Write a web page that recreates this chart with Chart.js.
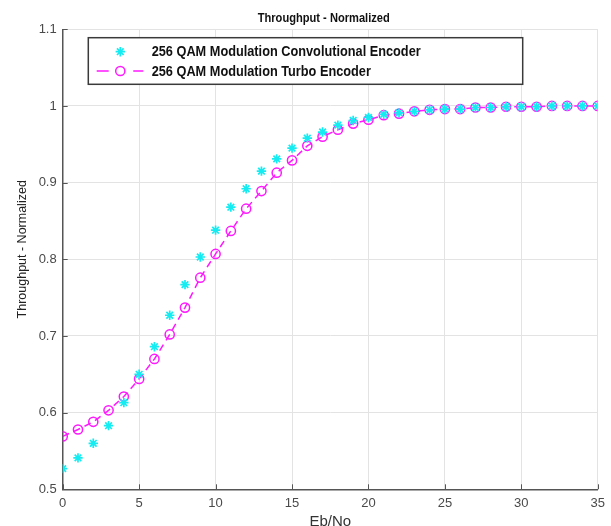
<!DOCTYPE html>
<html>
<head>
<meta charset="utf-8">
<script src="https://cdn.jsdelivr.net/npm/chart.js@4.4.1/dist/chart.umd.min.js"></script>
<style>
html, body { margin: 0; padding: 0; background: #ffffff; }
#wrap { width: 611px; height: 526px; position: relative; }
</style>
</head>
<body>
<div id="wrap"><canvas id="c" width="611" height="526"></canvas></div>
<script>
// ---- data ----
const ebNo = [0,1,2,3,4,5,6,7,8,9,10,11,12,13,14,15,16,17,18,19,20,21,22,23,24,25,26,27,28,29,30,31,32,33,34,35];
const convolutional = [0.527,0.541,0.560,0.583,0.613,0.650,0.686,0.727,0.767,0.803,0.838,0.868,0.892,0.915,0.931,0.945,0.958,0.966,0.975,0.981,0.985,0.989,0.991,0.993,0.995,0.996,0.996,0.998,0.998,0.999,0.999,0.999,1.000,1.000,1.000,1.000];
const turbo = [0.569,0.578,0.588,0.603,0.621,0.644,0.670,0.702,0.737,0.776,0.807,0.837,0.866,0.889,0.913,0.929,0.948,0.960,0.969,0.977,0.982,0.988,0.990,0.993,0.995,0.996,0.996,0.998,0.998,0.999,0.999,0.999,1.000,1.000,1.000,1.000];
const seriesLabels = ['256 QAM Modulation Convolutional Encoder', '256 QAM Modulation Turbo Encoder'];
const xTickLabels = ['0','5','10','15','20','25','30','35'];
const yTickLabels = ['0.5','0.6','0.7','0.8','0.9','1','1.1'];
const chartTitle = 'Throughput - Normalized';
const xTitle = 'Eb/No';
const yTitle = 'Throughput - Normalized';

const SANS = '"Liberation Sans", Arial, "DejaVu Sans", sans-serif';
const AXIS_COLOR = '#555555';
const GRID_COLOR = '#e3e3e3';

const toXY = (xs, ys) => xs.map((x, i) => ({ x: x, y: ys[i] }));

// draw text condensed horizontally so it spans a target width
function condensedText(ctx, text, x, y, font, targetWidth, align) {
  ctx.save();
  ctx.font = font;
  const w = ctx.measureText(text).width;
  const k = targetWidth / w;
  ctx.textBaseline = 'middle';
  ctx.textAlign = align;
  ctx.translate(x, y);
  ctx.scale(k, 1);
  ctx.fillText(text, 0, 0);
  ctx.restore();
  return k;
}

// inward tick marks (MATLAB style)
const inwardTicks = {
  id: 'inwardTicks',
  afterDatasetsDraw(chart) {
    const { ctx, chartArea: a, scales } = chart;
    ctx.save();
    ctx.strokeStyle = AXIS_COLOR;
    ctx.lineWidth = 1;
    ctx.beginPath();
    scales.x.ticks.forEach(t => {
      const px = Math.round(scales.x.getPixelForValue(t.value)) + 0.5;
      ctx.moveTo(px, a.bottom);
      ctx.lineTo(px, a.bottom - 5);
    });
    scales.y.ticks.forEach(t => {
      const py = Math.round(scales.y.getPixelForValue(t.value)) + 0.5;
      ctx.moveTo(a.left, py);
      ctx.lineTo(a.left + 5, py);
    });
    ctx.stroke();
    ctx.restore();
  }
};

// chart title and y-axis title
const titles = {
  id: 'titles',
  afterDraw(chart) {
    const { ctx, chartArea: a } = chart;
    ctx.save();
    ctx.fillStyle = '#111111';
    condensedText(ctx, chartTitle, (a.left + a.right) / 2 - 6.5, a.top - 11.3, 'bold 13px ' + SANS, 132, 'center');
    ctx.fillStyle = '#222222';
    ctx.translate(22.7, (a.top + a.bottom) / 2 - 10);
    ctx.rotate(-Math.PI / 2);
    ctx.font = '12.5px ' + SANS;
    ctx.textAlign = 'center';
    ctx.textBaseline = 'middle';
    ctx.fillText(yTitle, 0, 0);
    ctx.restore();
  }
};

// boxed legend inside the plot area
const boxLegend = {
  id: 'boxLegend',
  afterDraw(chart) {
    const { ctx, chartArea: a } = chart;
    const x0 = a.left + 25.6, y0 = a.top + 8.4, w = 434.4, h = 46.6;
    ctx.save();
    ctx.fillStyle = '#ffffff';
    ctx.fillRect(x0, y0, w, h);
    ctx.strokeStyle = '#3a3a3a';
    ctx.lineWidth = 1.5;
    ctx.strokeRect(x0, y0, w, h);
    const rows = [14, 33.3];
    const font = 'bold 15px ' + SANS;
    ctx.font = font;
    const k = 269 / ctx.measureText(chart.data.datasets[0].label).width;
    chart.data.datasets.forEach((ds, i) => {
      const cy = y0 + rows[i];
      const mx = x0 + 32;
      ctx.save();
      ctx.strokeStyle = ds.borderColor;
      ctx.fillStyle = 'rgba(0,0,0,0)';
      ctx.lineWidth = ds.borderWidth;
      if (ds.showLine !== false) {
        ctx.beginPath();
        ctx.moveTo(x0 + 8.4, cy); ctx.lineTo(x0 + 20.4, cy);
        ctx.moveTo(x0 + 45, cy); ctx.lineTo(x0 + 55, cy);
        ctx.stroke();
      }
      ctx.lineWidth = ds.pointBorderWidth;
      Chart.helpers.drawPoint(ctx, { pointStyle: ds.pointStyle, radius: ds.pointRadius, borderWidth: ds.pointBorderWidth, rotation: 0 }, mx, cy);
      ctx.restore();
      ctx.save();
      ctx.fillStyle = '#111111';
      ctx.font = font;
      ctx.textBaseline = 'middle';
      ctx.textAlign = 'left';
      ctx.translate(x0 + 63.4, cy + 0.5);
      ctx.scale(k, 1);
      ctx.fillText(ds.label, 0, 0);
      ctx.restore();
    });
    ctx.restore();
  }
};

new Chart(document.getElementById('c'), {
  type: 'scatter',
  data: {
    datasets: [
      {
        label: seriesLabels[0],
        data: toXY(ebNo, convolutional),
        showLine: false,
        borderColor: '#14ecf2',
        backgroundColor: '#14ecf2',
        borderWidth: 1.5,
        pointStyle: 'star',
        pointRadius: 4.7,
        pointBorderWidth: 1.7,
        pointBorderColor: '#14ecf2'
      },
      {
        label: seriesLabels[1],
        data: toXY(ebNo, turbo),
        showLine: true,
        borderColor: '#ff19ff',
        backgroundColor: 'rgba(0,0,0,0)',
        borderWidth: 1.5,
        borderDash: [7, 5],
        pointStyle: 'circle',
        pointRadius: 4.6,
        pointBorderWidth: 1.5,
        pointBorderColor: '#ff19ff',
        pointBackgroundColor: 'rgba(0,0,0,0)'
      }
    ]
  },
  options: {
    responsive: false,
    animation: false,
    devicePixelRatio: 1,
    layout: { padding: { left: 0, right: 9, top: 29.3, bottom: 0 } },
    plugins: {
      legend: { display: false },
      tooltip: { enabled: false },
      title: { display: false }
    },
    scales: {
      x: {
        type: 'linear',
        min: 0,
        max: 35,
        afterFit: s => { s.height = 36.7; },
        ticks: {
          stepSize: 5,
          padding: 6,
          color: '#4a4a4a',
          font: { family: SANS, size: 13 },
          maxRotation: 0,
          callback: (v, i) => xTickLabels[i]
        },
        grid: { color: GRID_COLOR, drawTicks: false, lineWidth: 1 },
        border: { display: true, color: AXIS_COLOR, width: 1.5 },
        title: {
          display: true,
          text: xTitle,
          color: '#333333',
          font: { family: SANS, size: 15 },
          padding: { top: 0, bottom: -5 }
        }
      },
      y: {
        type: 'linear',
        min: 0.5,
        max: 1.1,
        afterFit: s => { s.width = 62.7; },
        ticks: {
          stepSize: 0.1,
          padding: 6,
          color: '#4a4a4a',
          font: { family: SANS, size: 13 },
          callback: (v, i) => yTickLabels[i]
        },
        grid: { color: GRID_COLOR, drawTicks: false, lineWidth: 1 },
        border: { display: true, color: AXIS_COLOR, width: 1.5 },
        title: { display: false, text: yTitle }
      }
    }
  },
  plugins: [inwardTicks, titles, boxLegend]
});
</script>
</body>
</html>
